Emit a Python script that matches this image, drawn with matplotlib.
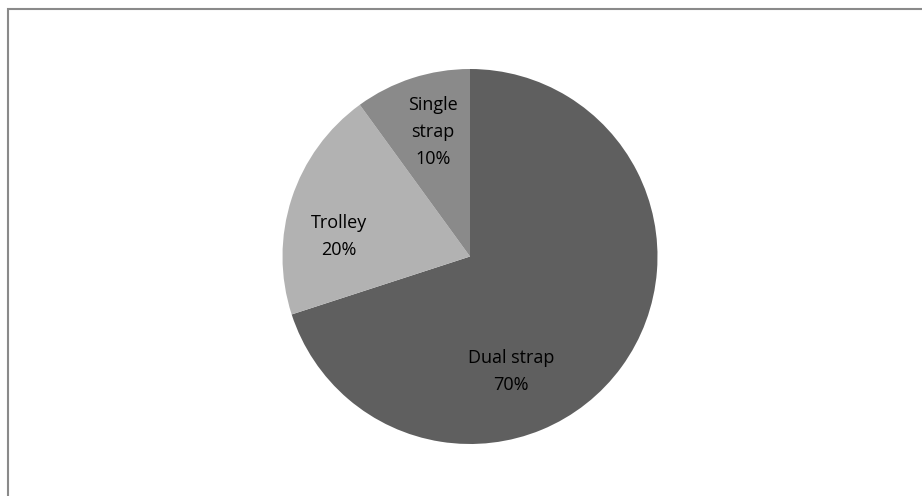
"""Pie chart of bag type shares."""

import matplotlib

matplotlib.use("Agg")
import matplotlib.pyplot as plt
from matplotlib.patches import Rectangle

CATEGORIES = ["Dual strap", "Trolley", "Single strap"]
SHARES = [70, 20, 10]
LABELS = ["Dual strap\n70%", "Trolley\n20%", "Single\nstrap\n10%"]
COLORS = ["#5f5f5f", "#b2b2b2", "#8a8a8a"]
# label centres in pie units, placed the way the spreadsheet placed them
LABEL_POS = [(0.218, -0.612), (-0.70, 0.109), (-0.197, 0.665)]

plt.rcParams["font.family"] = ["Open Sans", "DejaVu Sans"]

W, H = 922, 496
fig = plt.figure(figsize=(W / 100, H / 100), dpi=100)
# chart frame: only the top and left edges fall inside the picture
fig.add_artist(
    Rectangle((7.5 / W, -20 / H), (W + 20) / W, (H - 9.5 + 20) / H, transform=fig.transFigure,
              fill=False, edgecolor="#8a8a8a", linewidth=1.5)
)

cx, cy, r = 470, 256.5, 187.5
ax = fig.add_axes([(cx - r) / W, (H - cy - r) / H, 2 * r / W, 2 * r / H])
wedges, texts = ax.pie(
    SHARES,
    labels=LABELS,
    colors=COLORS,
    startangle=90,
    counterclock=False,
    radius=1.0,
    wedgeprops={"linewidth": 0},
    textprops={"fontsize": 13, "color": "black", "ha": "center", "va": "center",
               "linespacing": 1.65},
)
for text, pos in zip(texts, LABEL_POS):
    text.set_position(pos)
    text.set_horizontalalignment("center")
ax.set_xlim(-1, 1)
ax.set_ylim(-1, 1)
ax.set_aspect("equal")
ax.axis("off")

fig.savefig("out.png", dpi=100)
